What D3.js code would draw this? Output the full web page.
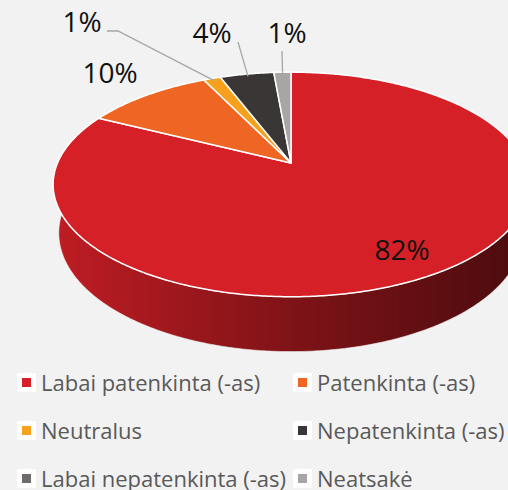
<!DOCTYPE html>
<html lang="lt">
<head>
<meta charset="UTF-8">
<title>Pasitenkinimas</title>
<script src="https://d3js.org/d3.v7.min.js"></script>
<style>
  body { margin: 0; background: #f2f2f2; }
  svg { display: block; font-family: "Open Sans", "DejaVu Sans", sans-serif; }
</style>
</head>
<body>
<div id="container"></div>
<script>
// Duomenys
const categories = ["Labai patenkinta (-as)", "Patenkinta (-as)", "Neutralus",
                    "Nepatenkinta (-as)", "Labai nepatenkinta (-as)", "Neatsakė"];
const shares = [82.4, 10.4, 1.4, 4.4, 0, 1.4];
const pctLabels = ["82%", "10%", "1%", "4%", "", "1%"];
const colors = ["#d52027", "#ef6523", "#f6a01b", "#3a3635", "#6f6b6a", "#a8a6a5"];

const width = 508, height = 490;

// 3D "kamera": pie plokštuma pasvirusi, su perspektyva
const cam = { cx: 291, cy: 163, f: 1083, R: 0.2156, tilt: 27.6 * Math.PI / 180, depth: 0.0509 };
function project(angle, r, h) {
  const u = cam.R * r * Math.sin(angle), v = cam.R * r * Math.cos(angle);
  const s = Math.sin(cam.tilt), c = Math.cos(cam.tilt);
  const Y = -(v * s + h * c);
  const Z = 1 + v * c - h * s;
  return [cam.cx + cam.f * u / Z, cam.cy + cam.f * Y / Z];
}
function sampleAngles(a0, a1) {
  const n = Math.max(2, Math.ceil((a1 - a0) / 0.01));
  return d3.range(n + 1).map(i => a0 + (a1 - a0) * i / n);
}

const svg = d3.select("#container").append("svg")
  .attr("width", width).attr("height", height);
svg.append("rect").attr("width", width).attr("height", height).attr("fill", "#f2f2f2");

const arcs = d3.pie().sort(null).value(d => d)(shares).filter(d => d.value > 0);
const line = d3.line();

// Gradientai šonams
const defs = svg.append("defs");
const left = project(-Math.PI / 2, 1.02, 0)[0], right = project(Math.PI / 2, 1.02, 0)[0];
arcs.forEach(a => {
  const g = defs.append("linearGradient").attr("id", "side" + a.index)
    .attr("gradientUnits", "userSpaceOnUse")
    .attr("x1", left).attr("x2", right).attr("y1", 0).attr("y2", 0);
  [[0, 0.3], [0.5, 1.45], [1, 2.95]].forEach(([o, k]) =>
    g.append("stop").attr("offset", o).attr("stop-color", d3.color(colors[a.index]).darker(k)));
});

// Šoninės sienos
svg.append("g").selectAll("path").data(arcs).join("path")
  .attr("d", a => {
    const ang = sampleAngles(a.startAngle, a.endAngle);
    const top = ang.map(t => project(t, 1, 0));
    const bottom = ang.slice().reverse().map(t => project(t, 1, -cam.depth));
    return line(top.concat(bottom)) + "Z";
  })
  .attr("fill", a => `url(#side${a.index})`)
  .attr("stroke", "#f2f2f2").attr("stroke-width", 0.6);

// Viršus
svg.append("g").selectAll("path").data(arcs).join("path")
  .attr("d", a => {
    const pts = [project(0, 0, 0)].concat(sampleAngles(a.startAngle, a.endAngle).map(t => project(t, 1, 0)));
    return line(pts) + "Z";
  })
  .attr("fill", a => colors[a.index])
  .attr("stroke", "#fff").attr("stroke-width", 1.5).attr("stroke-linejoin", "round");

// Etikečių išdėstymas
const labelLayout = {
  0: { x: 402, y: 260 },
  1: { x: 110, y: 83 },
  2: { x: 82, y: 32, leader: [[118, 31], [107, 31]] },
  3: { x: 212, y: 43, leader: [[238, 42]] },
  5: { x: 287, y: 43, leader: [[282, 51]] }
};

const lab = svg.append("g");
arcs.forEach(a => {
  const pos = labelLayout[a.index];
  if (pos.leader) {
    const mid = (a.startAngle + a.endAngle) / 2;
    lab.append("path")
      .attr("d", line([project(mid, 0.97, 0)].concat(pos.leader)))
      .attr("fill", "none").attr("stroke", "#a6a6a6").attr("stroke-width", 1.3);
  }
  lab.append("text").attr("x", pos.x).attr("y", pos.y)
    .attr("text-anchor", "middle").attr("font-size", 28).attr("fill", "#111")
    .text(pctLabels[a.index]);
});

// Legenda
const legend = svg.append("g");
categories.forEach((c, i) => {
  const gx = i % 2 === 0 ? 17 : 293, gy = 373 + Math.floor(i / 2) * 48;
  const g = legend.append("g").attr("transform", `translate(${gx},${gy})`);
  g.append("rect").attr("width", 19).attr("height", 19).attr("rx", 2).attr("fill", "#fff");
  g.append("rect").attr("x", 5).attr("y", 5).attr("width", 9).attr("height", 9).attr("fill", colors[i]);
  g.append("text").attr("x", 24).attr("y", 18).attr("font-size", 22).attr("fill", "#595959").text(c);
});
</script>
</body>
</html>
